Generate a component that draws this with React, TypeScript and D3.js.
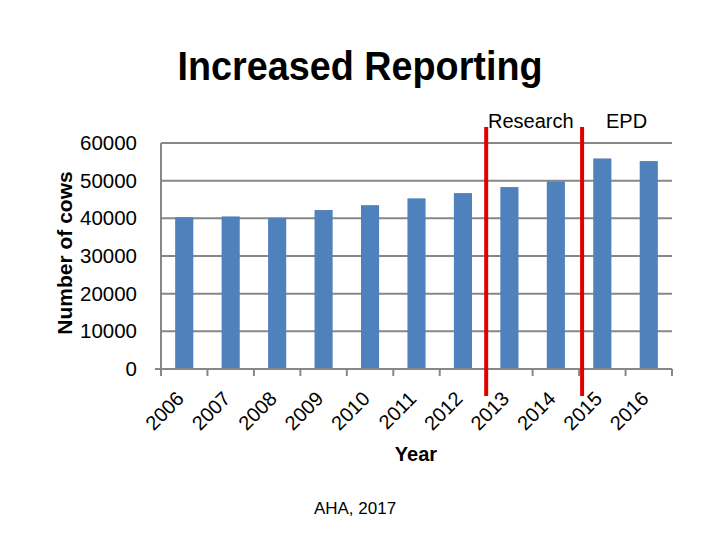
import React from "react";
import * as d3 from "d3";

const years = ["2006", "2007", "2008", "2009", "2010", "2011", "2012", "2013", "2014", "2015", "2016"];
const cows = [40300, 40500, 40100, 42200, 43500, 45300, 46700, 48300, 49800, 55900, 55200];
const yTicks = [0, 10000, 20000, 30000, 40000, 50000, 60000];
const markers = [
  { label: "Research", boundary: 7 },
  { label: "EPD", boundary: 9 },
];

const W = 720;
const H = 540;
const plot = { left: 161, right: 672, top: 143, bottom: 369 };
const FONT = "'Liberation Sans', Arial, sans-serif";

export default function App() {
  const x = d3.scaleBand<string>().domain(years).range([plot.left, plot.right]).paddingInner(0).paddingOuter(0);
  const y = d3.scaleLinear().domain([0, 60000]).range([plot.bottom, plot.top]);
  const step = x.step();
  const barW = step * 0.39;
  const boundaryX = (i: number) => plot.left + i * step;

  return (
    <svg width={W} height={H} style={{ position: "absolute", left: 0, top: 0, background: "#fff" }} fontFamily={FONT}>
      <rect width={W} height={H} fill="#fff" />
      <text x={360} y={80} textAnchor="middle" fontSize={40} fontWeight="bold" textLength={365} lengthAdjust="spacingAndGlyphs">
        Increased Reporting
      </text>

      {yTicks.map((t) => (
        <g key={t}>
          {t > 0 && <line x1={plot.left} x2={plot.right} y1={y(t)} y2={y(t)} stroke="#878787" strokeWidth={2} />}
          <text x={137} y={y(t) + 7} textAnchor="end" fontSize={20.5} fill="#000">
            {t}
          </text>
        </g>
      ))}

      <line x1={plot.left} x2={plot.left} y1={plot.top} y2={plot.bottom} stroke="#878787" strokeWidth={2} />

      {years.map((yr, i) => (
        <rect key={yr} x={(x(yr) as number) + (step - barW) / 2} y={y(cows[i])} width={barW} height={plot.bottom - y(cows[i])} fill="#4F81BD" />
      ))}

      <line x1={plot.left - 6} x2={plot.right} y1={plot.bottom} y2={plot.bottom} stroke="#878787" strokeWidth={2} />
      {d3.range(years.length + 1).map((i) => (
        <line key={i} x1={boundaryX(i)} x2={boundaryX(i)} y1={plot.bottom} y2={plot.bottom + 7} stroke="#878787" strokeWidth={2} />
      ))}

      {years.map((yr) => {
        const cx = (x(yr) as number) + step / 2;
        return (
          <text key={yr} transform={`translate(${cx + 1},${plot.bottom + 31}) rotate(-45)`} textAnchor="end" fontSize={20} fill="#000">
            {yr}
          </text>
        );
      })}

      {markers.map((m) => {
        const bx = boundaryX(m.boundary) + (m.boundary === 9 ? 3 : 0);
        return <line key={m.label} x1={bx} x2={bx} y1={127} y2={396} stroke="#E00000" strokeWidth={4} />;
      })}
      <text x={488} y={128} fontSize={20} fill="#000">Research</text>
      <text x={606} y={128} fontSize={20} fill="#000">EPD</text>

      <text transform={`translate(72,253) rotate(-90)`} textAnchor="middle" fontSize={21} fontWeight="bold" fill="#000">
        Number of cows
      </text>
      <text x={416} y={461} textAnchor="middle" fontSize={20} fontWeight="bold" fill="#000">
        Year
      </text>
      <text x={355} y={514} textAnchor="middle" fontSize={17} fill="#000">
        AHA, 2017
      </text>
    </svg>
  );
}
